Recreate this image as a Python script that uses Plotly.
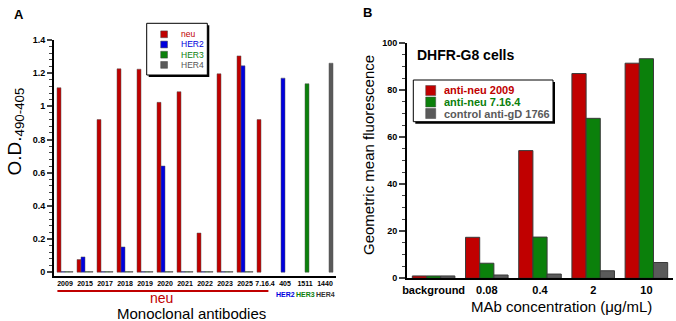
import plotly.graph_objects as go

# ---------------- data ----------------
antibodies = ["2009", "2015", "2017", "2018", "2019", "2020", "2021", "2022",
              "2023", "2025", "7.16.4", "405", "1511", "1440"]
t = 0.004  # near-zero readings drawn as a hairline at the baseline
od_neu = [1.112, 0.076, 0.92, 1.226, 1.224, 1.024, 1.088, 0.236, 1.196, 1.304, 0.92, None, None, None]
od_her2 = [t, 0.092, t, 0.152, t, 0.64, t, t, t, 1.244, None, 1.17, None, None]
od_her3 = [t, t, t, t, t, t, t, t, t, t, None, None, 1.136, None]
od_her4 = [t, t, t, t, t, t, t, t, t, t, None, None, None, 1.26]
series_a_names = ["neu", "HER2", "HER3", "HER4"]

concentrations = ["background", "0.08", "0.4", "2", "10"]
mfi_2009 = [1.0, 17.4, 54.2, 86.9, 91.3]
mfi_716 = [1.0, 6.4, 17.5, 67.9, 93.2]
mfi_gd = [1.0, 1.4, 1.8, 3.2, 6.7]
series_b_names = ["anti-neu 2009", "anti-neu 7.16.4", "control anti-gD 1766"]

# ---------------- style ----------------
RED, BLUE, GREEN, GREY = "#c00000", "#0000dd", "#0b800b", "#5a5a5a"
FONT = "Liberation Sans, Arial, sans-serif"
W, H = 676, 321


def X(px):
    return px / W


def Y(py):
    return 1 - py / H


fig = go.Figure()

colors_a = [RED, BLUE, GREEN, GREY]
for name, vals, col in zip(series_a_names, [od_neu, od_her2, od_her3, od_her4], colors_a):
    fig.add_trace(go.Bar(x=antibodies, y=vals, name=name, marker_color=col,
                         marker_line=dict(color="#555555", width=0.5),
                         xaxis="x", yaxis="y", showlegend=False))

colors_b = [RED, GREEN, GREY]
for name, vals, col in zip(series_b_names, [mfi_2009, mfi_716, mfi_gd], colors_b):
    fig.add_trace(go.Bar(x=concentrations, y=vals, name=name, marker_color=col,
                         marker_line=dict(color="#3a3a3a", width=1),
                         xaxis="x2", yaxis="y2", showlegend=False))

fig.update_layout(
    width=W, height=H, margin=dict(l=0, r=0, t=0, b=0, pad=0), autosize=False,
    paper_bgcolor="white", plot_bgcolor="white",
    font=dict(family=FONT, color="black"),
    barmode="group", bargap=0.2, bargroupgap=0,
    xaxis=dict(domain=[X(54), X(336)], range=[-0.55, 13.55], showline=True,
               linecolor="black", linewidth=2, ticks="", showgrid=False, zeroline=False,
               automargin=False,
               tickfont=dict(size=7, family=FONT, weight="bold"), anchor="y"),
    yaxis=dict(domain=[Y(275.5), Y(40)], range=[-0.02, 1.4], showline=True,
               linecolor="black", linewidth=2, ticks="outside", ticklen=5, tickwidth=1.5,
               dtick=0.2, tick0=0, showgrid=False, zeroline=False, automargin=False,
               minor=dict(ticks="outside", ticklen=3, dtick=0.04, tickwidth=1),
               tickfont=dict(size=9, family=FONT, weight="bold"), anchor="x"),
    xaxis2=dict(domain=[X(407), X(673)], range=[-0.5, 4.5], showline=True,
                linecolor="black", linewidth=2, ticks="", showgrid=False, zeroline=False,
                automargin=False,
                tickfont=dict(size=11, family=FONT, weight="bold"), anchor="y2"),
    yaxis2=dict(domain=[Y(278.3), Y(42.7)], range=[0, 100], showline=True,
                linecolor="black", linewidth=2, ticks="outside", ticklen=6, tickwidth=1.5,
                dtick=20, showgrid=False, zeroline=False, automargin=False,
                minor=dict(ticks="outside", ticklen=3, dtick=5, tickwidth=1),
                tickfont=dict(size=9, family=FONT, weight="bold"), anchor="x2"),
)

shapes = []
annotations = []


def note(text, px, py, size, color="black", angle=0, xanchor="center", xref="paper", x=None):
    annotations.append(dict(text=text, x=(X(px) if x is None else x), y=Y(py),
                            xref=xref, yref="paper", xanchor=xanchor, yanchor="middle",
                            showarrow=False, textangle=angle,
                            font=dict(size=size, color=color)))


# red bracket under the neu antibodies
shapes.append(dict(type="line", xref="x", yref="paper", x0=-0.38, x1=10.17,
                   y0=Y(291), y1=Y(291), line=dict(color=RED, width=2.2)))
note("neu", 161.7, 297.5, 14, RED)
for idx, lab, col in [(11, "HER2", BLUE), (12, "HER3", GREEN), (13, "HER4", "#333333")]:
    note("<b>%s</b>" % lab, 0, 294, 7, col, xref="x", x=idx)

note("Monoclonal antibodies", 191.5, 313, 15)
note("O.D.<sub>490-405</sub>", 15, 131.5, 19, angle=-90)
note("<b>A</b>", 19, 14.5, 13)
note("<b>B</b>", 367, 12.5, 13)
note("<b>DHFR-G8 cells</b>", 415, 55, 14, xanchor="left")
note("Geometric mean fluorescence", 369, 155, 15, angle=-90)
note("MAb concentration (\u03bcg/mL)", 561.7, 306.7, 15)


def legend_box(x0, y0, x1, y1):
    shapes.append(dict(type="rect", xref="paper", yref="paper", x0=X(x0 + 2), x1=X(x1 + 2),
                       y0=Y(y1 + 2), y1=Y(y0 + 2), fillcolor="black",
                       line=dict(width=0)))
    shapes.append(dict(type="rect", xref="paper", yref="paper", x0=X(x0), x1=X(x1),
                       y0=Y(y1), y1=Y(y0), fillcolor="white",
                       line=dict(color="black", width=1)))


# legend A
legend_box(146.7, 23.3, 207.3, 75)
for i, (name, col) in enumerate(zip(series_a_names, colors_a)):
    cy = 34.3 + 10.2 * i
    shapes.append(dict(type="rect", xref="paper", yref="paper", x0=X(160.7), x1=X(167.5),
                       y0=Y(cy + 3.4), y1=Y(cy - 3.4), fillcolor=col,
                       line=dict(color="#444444", width=0.5)))
    note(name, 179.3, cy, 8.5, col if col != GREY else "#555555", xanchor="left")

# legend B
legend_box(413.3, 80, 553, 121.7)
for i, (name, col) in enumerate(zip(series_b_names, colors_b)):
    cy = 90.5 + 11.5 * i
    shapes.append(dict(type="rect", xref="paper", yref="paper", x0=X(425.7), x1=X(435.7),
                       y0=Y(cy + 5), y1=Y(cy - 5), fillcolor=col,
                       line=dict(color="#444444", width=0.5)))
    note("<b>%s</b>" % name, 442.3, cy, 11, col, xanchor="left")

fig.update_layout(shapes=shapes, annotations=annotations)
fig.write_html("out.html", config={"displayModeBar": False},
               post_script="document.body.style.margin='0';document.body.style.overflow='hidden';")
